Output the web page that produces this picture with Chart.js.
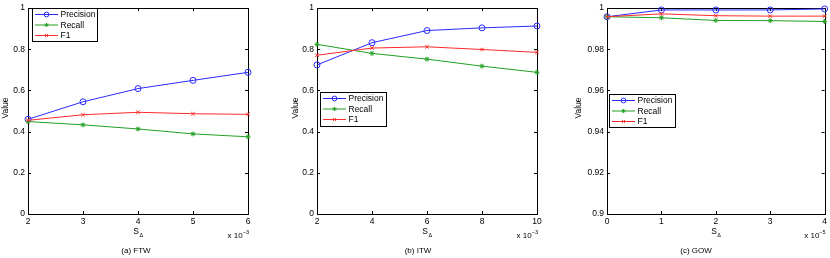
<!DOCTYPE html>
<html><head><meta charset="utf-8">
<script src="https://cdn.jsdelivr.net/npm/chart.js@4/dist/chart.umd.min.js"></script>
<style>
html,body{margin:0;padding:0;background:#fff;}
#wrap{position:relative;width:830px;height:258px;background:#fff;overflow:hidden;}
canvas{position:absolute;top:0;}
</style></head><body>
<div id="wrap">
<canvas id="ca" width="277" height="258" style="left:0px"></canvas>
<canvas id="cb" width="276" height="258" style="left:277px"></canvas>
<canvas id="cc" width="277" height="258" style="left:553px"></canvas>
</div>
<script>
// ---- data ----
const seriesLabels = ['Precision', 'Recall', 'F1'];

const ftwX = [2, 3, 4, 5, 6];
const ftwPrecision = [0.460, 0.545, 0.609, 0.649, 0.688];
const ftwRecall = [0.449, 0.433, 0.413, 0.389, 0.375];
const ftwF1 = [0.455, 0.482, 0.494, 0.487, 0.484];

const itwX = [2, 4, 6, 8, 10];
const itwPrecision = [0.724, 0.832, 0.891, 0.904, 0.913];
const itwRecall = [0.824, 0.780, 0.752, 0.718, 0.688];
const itwF1 = [0.771, 0.806, 0.812, 0.799, 0.785];

const gowX = [0, 1, 2, 3, 4];
const gowPrecision = [0.9958, 0.9991, 0.9991, 0.9991, 0.9996];
const gowRecall = [0.9958, 0.9953, 0.9940, 0.9939, 0.9935];
const gowF1 = [0.9958, 0.9972, 0.9963, 0.9961, 0.9961];

const ftwXTicks = [2, 3, 4, 5, 6];
const itwXTicks = [2, 4, 6, 8, 10];
const gowXTicks = [0, 1, 2, 3, 4];
const unitYTicks = [0, 0.2, 0.4, 0.6, 0.8, 1];
const gowYTicks = [0.9, 0.92, 0.94, 0.96, 0.98, 1];

const captions = ['(a) FTW', '(b) ITW', '(c) GOW'];
const exponents = ['\u22123', '\u22123', '\u22125'];
const yTitle = 'Value';

// ---- styling ----
const F = '"Liberation Sans", Arial, Helvetica, sans-serif';
const BLUE = '#2a2aff';
const GREEN = '#22a022';
const RED = '#ff2a2a';
const FS = 8.5;

const decor = {
  id: 'decor',
  beforeDatasetsDraw(chart, args, o) {
    const ctx = chart.ctx, a = chart.chartArea, xs = chart.scales.x, ys = chart.scales.y;
    ctx.save();
    ctx.strokeStyle = '#000'; ctx.lineWidth = 1;
    ctx.beginPath();
    xs.ticks.forEach(t => {
      const px = Math.round(xs.getPixelForValue(t.value)) + 0.5;
      ctx.moveTo(px, a.bottom); ctx.lineTo(px, a.bottom - 3);
      ctx.moveTo(px, a.top); ctx.lineTo(px, a.top + 3);
    });
    ys.ticks.forEach(t => {
      const py = Math.round(ys.getPixelForValue(t.value)) + 0.5;
      ctx.moveTo(a.left, py); ctx.lineTo(a.left + 3, py);
      ctx.moveTo(a.right, py); ctx.lineTo(a.right - 3, py);
    });
    ctx.stroke();
    ctx.strokeRect(Math.round(a.left) + 0.5, Math.round(a.top) + 0.5, Math.round(a.right - a.left), Math.round(a.bottom - a.top));
    ctx.restore();
  },
  afterDraw(chart, args, o) {
    const ctx = chart.ctx, a = chart.chartArea;
    ctx.save();
    // legend
    const L = o.legend;
    ctx.fillStyle = '#fff'; ctx.fillRect(L.x, L.y, L.w, L.h);
    ctx.strokeStyle = '#000'; ctx.lineWidth = 1;
    ctx.strokeRect(L.x + 0.5, L.y + 0.5, L.w, L.h);
    chart.data.datasets.forEach((ds, i) => {
      const cy = L.y + 6.5 + i * 10.5;
      ctx.strokeStyle = ds.borderColor; ctx.lineWidth = 1;
      ctx.beginPath(); ctx.moveTo(L.x + 3, cy); ctx.lineTo(L.x + 26, cy); ctx.stroke();
      ctx.fillStyle = ds.pointBackgroundColor;
      Chart.helpers.drawPoint(ctx, {pointStyle: ds.pointStyle, radius: ds.pointRadius * 0.8, borderWidth: 1, rotation: 0}, L.x + 14.5, cy);
      ctx.fillStyle = '#000';
      ctx.font = FS + 'px ' + F; ctx.textAlign = 'left'; ctx.textBaseline = 'middle';
      ctx.fillText(ds.label, L.x + 28.5, cy + 0.5);
    });
    // x title S_Δ
    const cx = (a.left + a.right) / 2;
    ctx.fillStyle = '#000'; ctx.textAlign = 'left'; ctx.textBaseline = 'alphabetic';
    ctx.font = FS + 'px ' + F; const sw = ctx.measureText('S').width;
    ctx.font = '5.5px ' + F; const dw = ctx.measureText('\u0394').width;
    const x0 = cx - (sw + dw) / 2;
    ctx.font = FS + 'px ' + F; ctx.fillText('S', x0, 233.5);
    ctx.font = '5.5px ' + F; ctx.fillText('\u0394', x0 + sw + 0.5, 236.5);
    // multiplier
    ctx.font = '5.5px ' + F; const ew = ctx.measureText(o.exp).width;
    ctx.fillText(o.exp, a.right - ew + 1, 233.5);
    ctx.font = '8px ' + F; ctx.textAlign = 'right';
    ctx.fillText('x 10', a.right - ew + 1, 238);
    // caption
    ctx.textAlign = 'center'; ctx.font = '8px ' + F;
    ctx.fillText(o.caption, o.capX, 252.5);
    // y title
    ctx.translate(o.ytX, 108); ctx.rotate(-Math.PI / 2);
    ctx.textAlign = 'center'; ctx.textBaseline = 'middle'; ctx.font = FS + 'px ' + F;
    ctx.fillText(yTitle, 0, 0);
    ctx.restore();
  }
};

const fmt = v => String(+Number(v).toFixed(4));

function makeChart(id, xv, prec, rec, f1, xt, yt, cfg) {
  const pts = arr => xv.map((x, i) => ({x: x, y: arr[i]}));
  const vals = [prec, rec, f1];
  const cols = [BLUE, GREEN, RED];
  const styles = ['circle', 'star', 'crossRot'];
  const radii = [3, 2.5, 2.5];
  const fills = ['rgba(0,0,0,0)', GREEN, RED];
  return new Chart(document.getElementById(id), {
    type: 'line',
    data: {
      datasets: seriesLabels.map((lab, i) => ({
        label: lab, data: pts(vals[i]), borderColor: cols[i], borderWidth: 1,
        pointStyle: styles[i], pointRadius: radii[i], pointHoverRadius: radii[i],
        pointBorderColor: cols[i], pointBackgroundColor: fills[i], pointBorderWidth: 1,
        order: 3 - i, clip: false, tension: 0
      }))
    },
    options: {
      responsive: false, animation: false, devicePixelRatio: 1, events: [],
      layout: {padding: {left: 0, right: cfg.padR, top: 6, bottom: 0}},
      plugins: {legend: {display: false}, tooltip: {enabled: false}, decor: cfg},
      scales: {
        x: {
          type: 'linear', min: xt[0], max: xt[xt.length - 1],
          afterBuildTicks: s => { s.ticks = xt.map(v => ({value: v})); },
          ticks: {color: '#000', font: {family: F, size: FS}, padding: 3, maxRotation: 0, autoSkip: false, callback: fmt},
          grid: {display: false, drawTicks: false}, border: {display: false},
          afterFit: s => { s.height = 44; }
        },
        y: {
          type: 'linear', min: yt[0], max: yt[yt.length - 1],
          afterBuildTicks: s => { s.ticks = yt.map(v => ({value: v})); },
          ticks: {color: '#000', font: {family: F, size: FS}, padding: 3, autoSkip: false, callback: fmt},
          grid: {display: false, drawTicks: false}, border: {display: false},
          afterFit: s => { s.width = cfg.yw; }
        }
      }
    },
    plugins: [decor]
  });
}

makeChart('ca', ftwX, ftwPrecision, ftwRecall, ftwF1, ftwXTicks, unitYTicks,
  {yw: 28, padR: 29, caption: captions[0], exp: exponents[0], capX: 136, ytX: 6, legend: {x: 32, y: 8, w: 65, h: 33}});
makeChart('cb', itwX, itwPrecision, itwRecall, itwF1, itwXTicks, unitYTicks,
  {yw: 40, padR: 16, caption: captions[1], exp: exponents[1], capX: 141, ytX: 18.5, legend: {x: 43, y: 92, w: 66, h: 34}});
makeChart('cc', gowX, gowPrecision, gowRecall, gowF1, gowXTicks, gowYTicks,
  {yw: 54, padR: 4, caption: captions[2], exp: exponents[2], capX: 143, ytX: 26, legend: {x: 56, y: 94, w: 66, h: 33}});
</script>
</body></html>
